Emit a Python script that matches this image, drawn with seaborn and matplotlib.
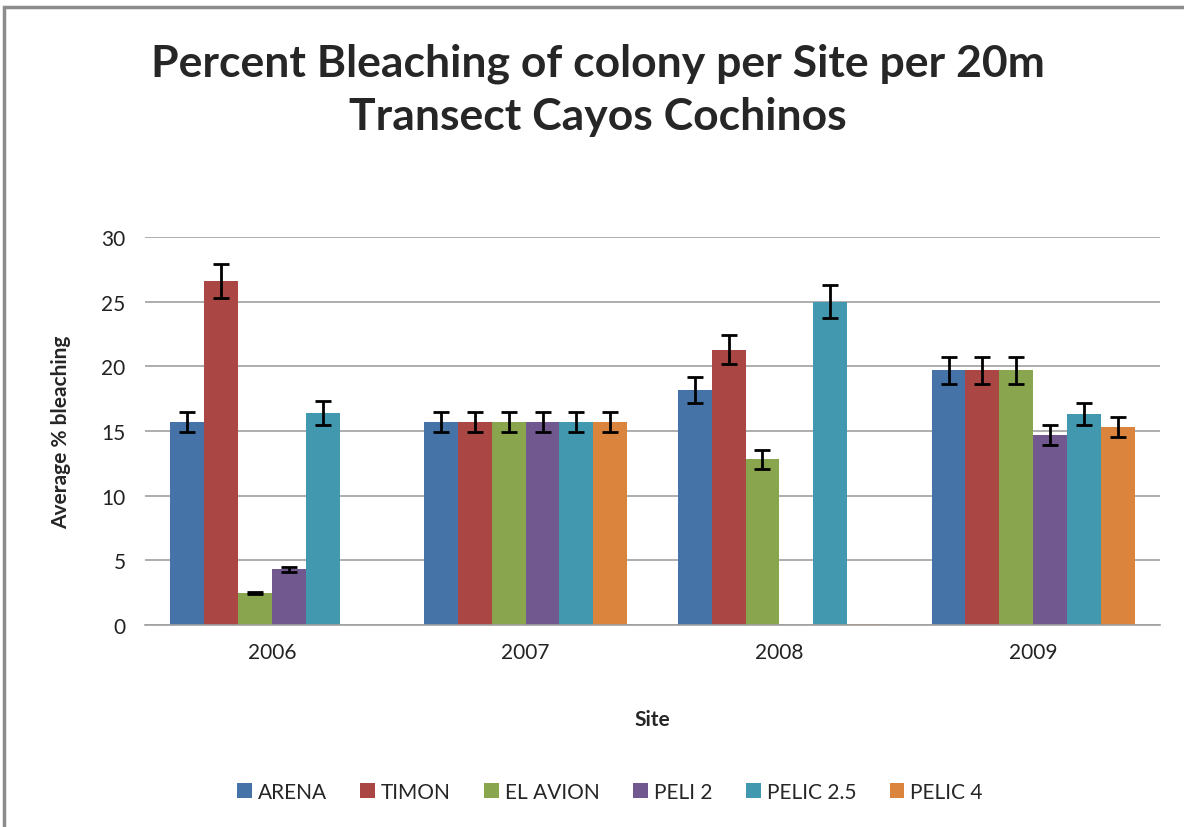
import numpy as np
import pandas as pd
import seaborn as sns
import matplotlib.pyplot as plt
from matplotlib.patches import Rectangle

# valores
anos = ['2006', '2007', '2008', '2009']
sitios = ['ARENA', 'TIMON', 'EL AVION', 'PELI 2', 'PELIC 2.5', 'PELIC 4']
arena = [15.7, 15.7, 18.2, 19.7]
timon = [26.6, 15.7, 21.3, 19.7]
el_avion = [2.5, 15.7, 12.8, 19.7]
peli2 = [4.3, 15.7, np.nan, 14.7]
pelic25 = [16.4, 15.7, 25.0, 16.3]
pelic4 = [np.nan, 15.7, 0.1, 15.3]
# erros (+/-)
err_arena = [0.8, 0.8, 1.0, 1.05]
err_timon = [1.3, 0.8, 1.1, 1.05]
err_el_avion = [0.08, 0.8, 0.7, 1.05]
err_peli2 = [0.2, 0.8, 0.0, 0.8]
err_pelic25 = [0.9, 0.8, 1.3, 0.85]
err_pelic4 = [0.0, 0.8, 0.0, 0.75]

cores = ['#4572A7', '#AA4643', '#89A54E', '#71588F', '#4198AF', '#DB843D']

valores = [arena, timon, el_avion, peli2, pelic25, pelic4]
erros = [err_arena, err_timon, err_el_avion, err_peli2, err_pelic25, err_pelic4]

tabela = pd.DataFrame({
    'Ano': anos * len(sitios),
    'Sitio': [s for s in sitios for _ in anos],
    'Valor': [v for lista in valores for v in lista],
})

sns.set_style('white')
plt.rcParams['font.family'] = ['Lato', 'DejaVu Sans']

fig = plt.figure(figsize=(11.84, 8.28), dpi=100)
ax = fig.add_axes([145 / 1184, 1 - 626 / 828, (1160 - 145) / 1184, (626 - 238) / 828])

sns.barplot(data=tabela, x='Ano', y='Valor', hue='Sitio', order=anos, hue_order=sitios,
            palette=cores, errorbar=None, width=0.8, saturation=1, linewidth=0, ax=ax)

# barras de erro (casando cada barra com sua categoria pela posicao)
for cont, erro, vals in zip(ax.containers, erros, valores):
    for barra in cont:
        xc = barra.get_x() + barra.get_width() / 2
        i = int(round(xc))
        v, e = vals[i], erro[i]
        if np.isnan(v) or e == 0:
            continue
        ax.errorbar(xc, v, yerr=e, fmt='none', ecolor='black', elinewidth=2, capsize=6, capthick=2, zorder=5)

ax.set_ylim(0, 30)
ax.set_xlim(-0.5, 3.5)
ax.set_yticks([0, 5, 10, 15, 20, 25, 30])
ax.yaxis.grid(True, color='#A0A0A0', linewidth=1.2)
ax.set_axisbelow(True)
for lado in ['left', 'right', 'top']:
    ax.spines[lado].set_visible(False)
ax.spines['bottom'].set_color('#A0A0A0')
ax.spines['bottom'].set_linewidth(1.2)
ax.tick_params(axis='both', length=0, labelsize=15, colors='#222222')
ax.tick_params(axis='x', pad=12)
ax.tick_params(axis='y', pad=14)

ax.set_xlabel('Site', fontsize=15, fontweight='bold', labelpad=34)
ax.set_ylabel('Average % bleaching', fontsize=15, fontweight='bold', labelpad=22)

fig.text(0.505, 1 - 90 / 828, 'Percent Bleaching of colony per Site per 20m\nTransect Cayos Cochinos',
         ha='center', va='center', fontsize=32, fontweight='bold', linespacing=1.4)

ax.legend(loc='center', bbox_to_anchor=(610 / 1184, 1 - 793 / 828), bbox_transform=fig.transFigure,
          ncol=6, frameon=False, fontsize=15, handlelength=0.7, handleheight=0.7,
          handletextpad=0.3, columnspacing=1.6)

# moldura do grafico
fig.patches.append(Rectangle((4 / 1184, -0.1), 1.2, 1 - 8 / 828 + 0.1, transform=fig.transFigure,
                             fill=False, edgecolor='#8C8C8C', linewidth=2.5))

plt.savefig('out.png', dpi=100)
